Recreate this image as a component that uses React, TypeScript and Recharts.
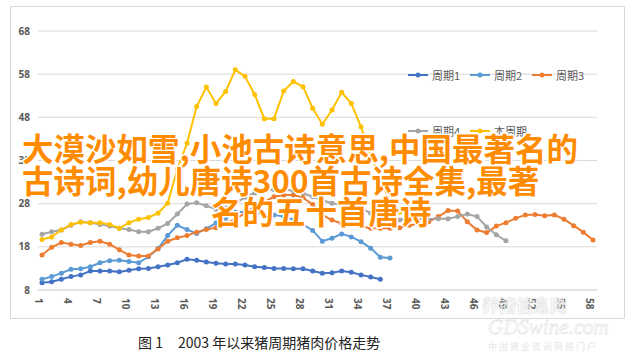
import React from "react"
import { CartesianGrid, Legend, Line, LineChart, XAxis, YAxis } from "recharts"

// week index on the x axis
const weeks = Array.from({ length: 58 }, (_, i) => i + 1)
const xTicks = [1, 4, 7, 10, 13, 16, 19, 22, 25, 28, 31, 34, 37, 40, 43, 46, 49, 52, 55, 58]
const yTicks = [8, 18, 28, 38, 48, 58, 68]

const cycle1 = [
  9.7, 9.9, 10.5, 11.1, 11.5, 12.4, 12.4, 12.4, 12.2, 12.6, 12.9, 13.0, 13.4, 13.8, 14.3, 15.1, 14.9, 14.5,
  14.2, 14.0, 14.0, 13.8, 13.4, 13.2, 13.0, 13.0, 12.9, 12.9, 12.4, 11.9, 12.0, 12.4, 12.1, 11.5, 11.0, 10.5,
]
const cycle2 = [
  10.5, 11.1, 11.9, 12.8, 12.9, 13.4, 14.3, 14.8, 14.9, 14.6, 14.3, 15.7, 17.6, 20.6, 23.0, 22.0, 21.1, 22.2,
  23.5, 24.6, 26.0, 26.1, 25.9, 25.5, 25.4, 25.0, 24.3, 23.2, 21.8, 19.3, 20.0, 21.0, 20.3, 19.2, 17.7, 15.6, 15.4,
]
const cycle3 = [
  16.1, 17.9, 19.0, 18.6, 18.3, 19.0, 19.3, 18.6, 17.3, 16.1, 15.9, 15.9, 17.5, 19.3, 20.1, 20.6, 21.4, 22.0,
  22.4, 23.4, 24.4, 25.8, 27.3, 28.4, 29.6, 30.0, 30.0, 29.4, 27.8, 25.4, 24.2, 23.4, 23.3, 22.7, 22.3, 22.3,
  22.3, 22.4, 23.0, 23.3, 23.8, 25.0, 26.4, 26.3, 23.8, 21.9, 21.3, 22.8, 23.6, 24.6, 25.4, 25.5, 25.2, 25.4,
  24.4, 22.9, 21.4, 19.6,
]
const cycle4 = [
  20.9, 21.5, 21.9, 23.0, 23.8, 23.6, 23.2, 22.8, 22.3, 22.0, 21.5, 21.5, 22.3, 23.4, 25.6, 27.9, 28.2, 27.5,
  26.7, 27.0, 28.0, 29.5, 30.5, 31.0, 31.3, 31.3, 31.0, 30.4, 29.6, 28.8, 28.1, 27.7, 27.8, 26.9, 25.8, 25.0,
  24.4, 24.2, 24.6, 24.6, 24.5, 24.5, 24.5, 25.0, 25.6, 25.0, 22.6, 20.8, 19.4,
]
const current = [
  19.7, 20.3, 21.9, 23.2, 23.7, 23.6, 23.6, 23.2, 22.3, 23.6, 24.4, 24.8, 25.8, 28.1, 36.0, 42.0, 50.5, 55.0,
  51.2, 54.0, 59.0, 57.5, 53.3, 47.7, 47.7, 54.1, 56.3, 55.1, 50.1, 46.4, 49.7, 53.8, 51.2, 45.8, 39.5, 33.5,
  28.5, 26.0,
]

const series = [
  { key: "c1", name: "周期1", color: "#4472C4", values: cycle1 },
  { key: "c2", name: "周期2", color: "#5B9BD5", values: cycle2 },
  { key: "c3", name: "周期3", color: "#ED7D31", values: cycle3 },
  { key: "c4", name: "周期4", color: "#A5A5A5", values: cycle4 },
  { key: "c5", name: "本周期", color: "#FFC000", values: current },
]

const data = weeks.map((w, i) => {
  const row: Record<string, number | undefined> = { week: w }
  series.forEach((s) => (row[s.key] = s.values[i]))
  return row
})

const titleLines = [
  "大漠沙如雪,小池古诗意思,中国最著名的",
  "古诗词,幼儿唐诗300首古诗全集,最著",
  "名的五十首唐诗",
]

const LegendBox = ({ payload }: any) => {
  const items = payload || []
  const rows = [items.slice(0, 3), items.slice(3)]
  return (
    <div style={{ position: "relative", width: 200, height: 70 }}>
      {rows.map((row: any[], r: number) => (
        <div key={r} style={{ position: "absolute", left: 0, top: r * 56, display: "flex" }}>
          {row.map((it: any) => (
            <div key={it.value} style={{ width: 62, display: "flex", alignItems: "center" }}>
              <svg width={20} height={14}>
                <line x1={0} y1={7} x2={20} y2={7} stroke={it.color} strokeWidth={2} />
                <circle cx={10} cy={7} r={2.5} fill={it.color} />
              </svg>
              <span
                style={{
                  marginLeft: 4,
                  fontSize: 11,
                  color: "#595959",
                  fontFamily: "Noto Sans CJK SC, sans-serif",
                  lineHeight: "14px",
                }}
              >
                {it.value}
              </span>
            </div>
          ))}
        </div>
      ))}
    </div>
  )
}

export default function App() {
  return (
    <div style={{ position: "absolute", left: 0, top: 0, width: 634, height: 358, background: "#fff" }}>
      <div
        style={{
          position: "absolute",
          left: 10,
          top: 6,
          width: 613,
          height: 311,
          border: "1px solid #D9D9D9",
        }}
      />
      <LineChart width={634} height={358} data={data} margin={{ top: 31, right: 37, left: 0, bottom: 38 }}>
        <CartesianGrid vertical={false} stroke="#D9D9D9" />
        <XAxis
          dataKey="week"
          type="number"
          domain={[1, 58]}
          ticks={xTicks}
          padding={{ left: 4, right: 4 }}
          height={30}
          tickLine={false}
          axisLine={{ stroke: "#D9D9D9" }}
          angle={90}
          textAnchor="start"
          tick={{
            fontSize: 10,
            fill: "#595959",
            fontWeight: "bold",
            fontFamily: "Noto Sans, sans-serif",
            textAnchor: "start",
            verticalAnchor: "middle",
          }}
          interval={0}
        />
        <YAxis
          domain={[8, 68]}
          ticks={yTicks}
          width={38}
          axisLine={false}
          tickLine={false}
          tick={{ fontSize: 10, fill: "#595959", fontWeight: "bold", fontFamily: "Noto Sans, sans-serif" }}
        />
        <Legend
          layout="horizontal"
          verticalAlign="middle"
          align="center"
          content={<LegendBox />}
          wrapperStyle={{ left: 408, top: 68, width: 200 }}
        />
        {series.map((s) => (
          <Line
            key={s.key}
            type="linear"
            dataKey={s.key}
            name={s.name}
            stroke={s.color}
            strokeWidth={2}
            dot={{ r: 2.5, fill: s.color, stroke: s.color, strokeWidth: 0 }}
            activeDot={false}
            isAnimationActive={false}
          />
        ))}
      </LineChart>
      <svg
        width={634}
        height={358}
        style={{ position: "absolute", left: 0, top: 0, pointerEvents: "none" }}
        fontFamily="Noto Sans CJK SC, sans-serif"
      >
        <g fill="none" stroke="#E8E8E8" strokeWidth={0.8}>
          <text x={482} y={312} fontSize={17} fontWeight="bold">养猪信息网</text>
          <text x={488} y={334} fontSize={21} fontStyle="italic" fontFamily="Liberation Serif, serif">
            GDSwine.com
          </text>
        </g>
        <text x={488} y={350} fontSize={9} fill="#E6E6E6" letterSpacing={2}>
          中国猪业资讯网络门户
        </text>
        <text x={138} y={348} fontSize={14} fill="#222">图 1</text>
        <text x={178} y={348} fontSize={14} fill="#222">2003 年以来猪周期猪肉价格走势</text>
        <g fontSize={31.5} fontWeight="bold" fill="#FF8C00" stroke="#fff" strokeWidth={3} paintOrder="stroke">
          <text x={22} y={161}>{titleLines[0]}</text>
          <text x={22} y={193}>{titleLines[1]}</text>
          <text x={211} y={224}>{titleLines[2]}</text>
        </g>
      </svg>
    </div>
  )
}
